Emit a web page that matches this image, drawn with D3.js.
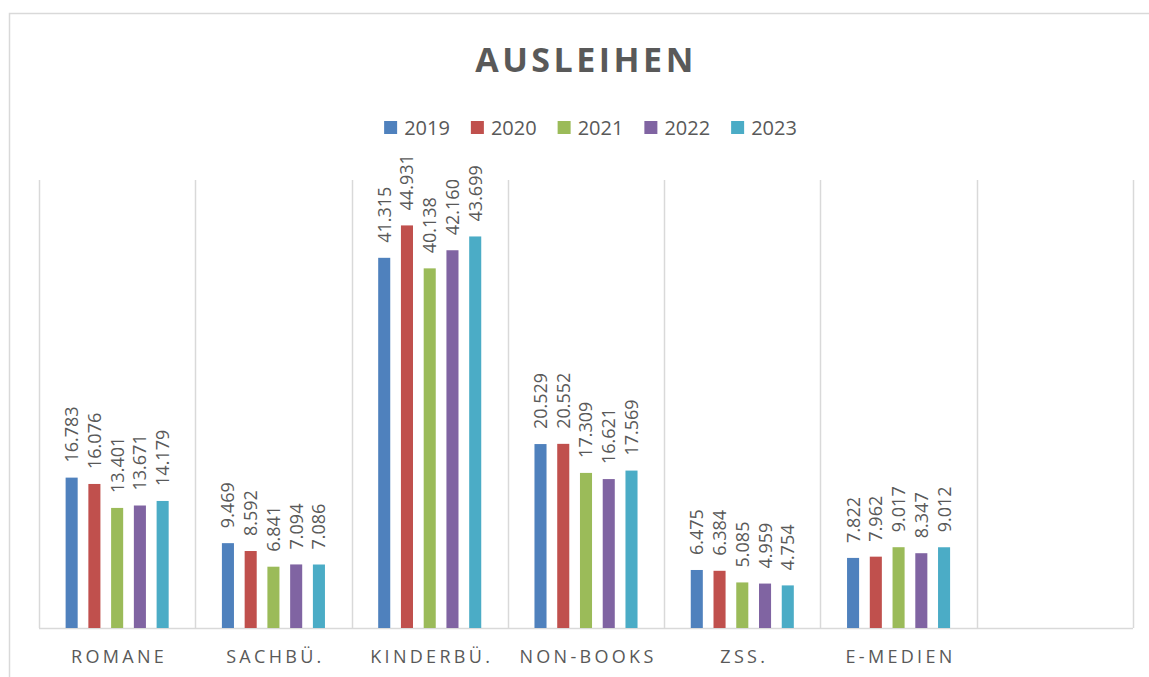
<!DOCTYPE html>
<html lang="de">
<head>
<meta charset="UTF-8">
<title>Ausleihen</title>
<script src="https://d3js.org/d3.v7.min.js"></script>
<style>
  body { margin: 0; background: #fff; }
  svg { display: block; font-family: "Open Sans", sans-serif; }
</style>
</head>
<body>
<div id="chart"></div>
<script>
  // data
  const categories = ["ROMANE", "SACHBÜ.", "KINDERBÜ.", "NON-BOOKS", "ZSS.", "E-MEDIEN", ""];
  const years = ["2019", "2020", "2021", "2022", "2023"];
  const values2019 = [16.783, 9.469, 41.315, 20.529, 6.475, 7.822];
  const values2020 = [16.076, 8.592, 44.931, 20.552, 6.384, 7.962];
  const values2021 = [13.401, 6.841, 40.138, 17.309, 5.085, 9.017];
  const values2022 = [13.671, 7.094, 42.160, 16.621, 4.959, 8.347];
  const values2023 = [14.179, 7.086, 43.699, 17.569, 4.754, 9.012];
  const colors = ["#4f81bd", "#c0504d", "#9bbb59", "#8064a2", "#4bacc6"];

  const seriesValues = [values2019, values2020, values2021, values2022, values2023];
  const rows = [];
  seriesValues.forEach((vals, i) => {
    vals.forEach((v, j) => rows.push({ cat: categories[j], year: years[i], value: v }));
  });

  const width = 1149, height = 677;
  const marginLeft = 39, marginRight = 16, marginTop = 180, marginBottom = 49;
  const textColor = "#595959";
  const gridColor = "#d9d9d9";

  const fmt = v => d3.format(".3f")(v);

  const svg = d3.select("#chart").append("svg")
    .attr("width", width)
    .attr("height", height);

  // chart frame
  svg.append("rect")
    .attr("x", 9.5).attr("y", 13.5)
    .attr("width", width + 10).attr("height", height + 10)
    .attr("fill", "none")
    .attr("stroke", gridColor)
    .attr("stroke-width", 1.5);

  const x = d3.scaleBand()
    .domain(categories)
    .range([marginLeft, width - marginRight]);

  const xi = d3.scaleBand()
    .domain(years)
    .range([0, x.bandwidth()])
    .paddingInner(0.47)
    .paddingOuter(1.17);

  const y = d3.scaleLinear()
    .domain([0, 50])
    .range([height - marginBottom, marginTop]);

  // vertical gridlines between categories
  const bounds = categories.map(c => x(c)).concat([x(categories[categories.length - 1]) + x.bandwidth()]);
  svg.append("g")
    .selectAll("line")
    .data(bounds)
    .join("line")
    .attr("x1", d => Math.round(d) + 0.5)
    .attr("x2", d => Math.round(d) + 0.5)
    .attr("y1", y(50))
    .attr("y2", y(0))
    .attr("stroke", gridColor)
    .attr("stroke-width", 1.5);

  // baseline
  svg.append("line")
    .attr("x1", bounds[0]).attr("x2", bounds[bounds.length - 1])
    .attr("y1", y(0) + 0.5).attr("y2", y(0) + 0.5)
    .attr("stroke", gridColor)
    .attr("stroke-width", 1.5);

  const color = d3.scaleOrdinal().domain(years).range(colors);

  // bars
  svg.append("g")
    .selectAll("rect")
    .data(rows)
    .join("rect")
    .attr("x", d => x(d.cat) + xi(d.year))
    .attr("y", d => y(d.value))
    .attr("width", xi.bandwidth())
    .attr("height", d => y(0) - y(d.value))
    .attr("fill", d => color(d.year));

  // value labels (rotated)
  svg.append("g")
    .selectAll("text")
    .data(rows)
    .join("text")
    .attr("transform", d => `translate(${x(d.cat) + xi(d.year) + xi.bandwidth() / 2},${y(d.value) - 15}) rotate(-90)`)
    .attr("dy", "0.36em")
    .attr("fill", textColor)
    .attr("font-size", 18)
    .attr("text-anchor", "start")
    .text(d => fmt(d.value));

  // category labels
  svg.append("g")
    .selectAll("text")
    .data(categories)
    .join("text")
    .attr("x", d => x(d) + x.bandwidth() / 2 + 2)
    .attr("y", 663)
    .attr("fill", textColor)
    .attr("font-size", 18)
    .attr("letter-spacing", 3.3)
    .attr("text-anchor", "middle")
    .text(d => d);

  // title
  svg.append("text")
    .attr("x", 586)
    .attr("y", 72)
    .attr("fill", textColor)
    .attr("font-size", 34)
    .attr("font-weight", "bold")
    .attr("letter-spacing", 3.5)
    .attr("text-anchor", "middle")
    .text("AUSLEIHEN");

  // legend
  const legend = svg.append("g");
  const items = legend.selectAll("g")
    .data(years)
    .join("g");
  items.append("rect")
    .attr("width", 13).attr("height", 13)
    .attr("y", 121)
    .attr("fill", d => color(d));
  items.append("text")
    .attr("x", 20)
    .attr("y", 135)
    .attr("fill", textColor)
    .attr("font-size", 20)
    .text(d => d);

  let offset = 0;
  const gap = 21;
  const widths = [];
  items.each(function () {
    const w = 20 + this.querySelector("text").getComputedTextLength();
    widths.push(w);
  });
  const total = d3.sum(widths) + gap * (widths.length - 1);
  let start = 590.5 - total / 2;
  items.attr("transform", (d, i) => {
    const t = `translate(${start + offset},0)`;
    offset += widths[i] + gap;
    return t;
  });
</script>
</body>
</html>
